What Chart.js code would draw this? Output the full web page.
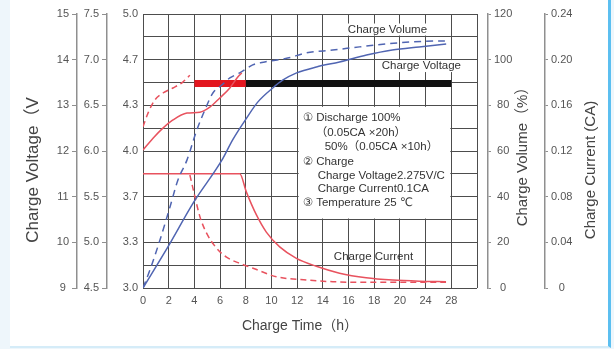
<!DOCTYPE html>
<html>
<head>
<meta charset="utf-8">
<script src="https://cdn.jsdelivr.net/npm/chart.js@4.4.1/dist/chart.umd.min.js"></script>
<style>
html, body { margin: 0; padding: 0; background: #eef6fb; }
#frame { position: absolute; left: 10px; top: 0; width: 598px; height: 346px; background: #fff; border-right: 3px solid #5cbff0; border-bottom: 2px solid #d5ecf8; }
#chart { position: absolute; left: 0; top: 0; }
</style>
</head>
<body>
<div id="frame"></div>
<canvas id="chart" width="614" height="349"></canvas>
<script>
//Axis ticks
var xTickLabels = ['0', '2', '4', '6', '8', '10', '12', '14', '16', '18', '20', '24', '28'];
var xGrid = [0, 2, 4, 6, 8, 10, 12, 14, 16, 18, 20, 22, 24, 26];
var batteryTicks = [9, 10, 11, 12, 13, 14, 15];
var halfTicks = [4.5, 5.0, 5.5, 6.0, 6.5, 7.0, 7.5];
var cellLabels = ['3.0', '3.3', '3.7', '4.0', '4.3', '4.7', '5.0'];
var volumeTicks = [0, 20, 40, 60, 80, 100, 120];
var currentTicks = [0, 0.04, 0.08, 0.12, 0.16, 0.20, 0.24];

//Series (x = position on the time axis, y on each axis scale)
var volt100T = [0, 0.78, 1.55, 2.33, 3.42, 4.43, 5.2, 5.98, 6.76, 7.38, 7.69];
var volt100V = [12.02, 12.28, 12.5, 12.68, 12.83, 12.85, 12.96, 13.16, 13.38, 13.62, 13.71];
var volt50T = [0, 0.39, 0.93, 1.55, 2.33, 3.1, 3.65];
var volt50V = [12.53, 12.83, 13.12, 13.27, 13.38, 13.51, 13.66];
var holdRedT = [4, 8];
var holdBlackT = [8, 24];
var holdV = [13.48, 13.48];

var vol100T = [0, 1.94, 3.96, 6.14, 6.99, 8.05, 8.93, 10.1, 10.87, 11.96, 13.5, 15.3, 17.4, 19.4, 21.5, 23.6];
var vol100P = [0, 18, 37.7, 56, 65, 74.3, 81.4, 87.6, 91, 94.2, 96.8, 99, 102, 104.2, 105.6, 106.9];
var vol50T = [0, 0.54, 1.32, 2.1, 2.72, 3.42, 4.19, 4.82, 5.44, 6.14, 6.76, 7.53, 8.54, 9.48, 11.26, 12.74, 14.76, 16.85, 18.95, 20.97, 23.07, 23.5];
var vol50P = [0, 7.9, 21, 35.5, 47.3, 56, 69.2, 78, 85.4, 88.9, 92, 94.2, 97.7, 99, 100.7, 103, 104.2, 105.6, 106.9, 107.8, 108.2, 108.2];

var cur100T = [0, 7.53, 8.05, 8.83, 9.6, 10.64, 11.94, 13.49, 15.3, 17.37, 19.44, 21.51, 23.59];
var cur100A = [0.1, 0.1, 0.084, 0.064, 0.049, 0.036, 0.026, 0.019, 0.013, 0.009, 0.007, 0.006, 0.0055];
var cur50T = [3.65, 4.04, 4.43, 4.95, 5.72, 6.5, 7.53, 8.57, 10.38, 12.71, 14.78, 17.1, 23.59];
var cur50A = [0.099, 0.08, 0.0625, 0.048, 0.035, 0.027, 0.0216, 0.0173, 0.0099, 0.007, 0.0055, 0.005, 0.005];

var FONT = '"Liberation Sans", Arial, "DejaVu Sans", "Noto Sans CJK SC", sans-serif';
var RED = '#e8525e', BLUE = '#5065b2', GRID = '#4d4d4d', AXIS = '#8f8f8f', TXT = '#555';

Chart.defaults.font.family = FONT;
Chart.defaults.color = TXT;

function series(label, xs, ys, axis, color, dash, width) {
	return {
		label: label,
		data: xs.map(function (x, i) { return {x: x, y: ys[i]}; }),
		yAxisID: axis,
		borderColor: color,
		backgroundColor: color,
		borderWidth: width || 1.5,
		borderDash: dash || [],
		borderCapStyle: 'butt',
		pointRadius: 0,
		cubicInterpolationMode: 'monotone',
		fill: false
	};
}

function fixTicks(values) {
	return function (s) { s.ticks = values.map(function (v) { return {value: v}; }); };
}

function sideAxis(pos, min, max, values, width, tickLen, pad) {
	return {
		position: pos, min: min, max: max,
		afterBuildTicks: fixTicks(values),
		afterFit: function (s) { s.width = width; },
		ticks: {crossAlign: 'center', padding: pad, color: TXT, font: {size: 11}},
		grid: {display: true, drawOnChartArea: false, drawTicks: true, tickLength: tickLen, tickColor: AXIS, color: AXIS},
		border: {display: true, color: AXIS, width: 1.5}
	};
}

//Labels and legend box
var notes = [
	{text: 'Charge Volume', x: 19.03, y: 11.32, bg: true},
	{text: 'Charge Voltage', x: 21.67, y: 9.72, bg: true},
	{text: 'Charge Current', x: 17.94, y: 1.36, bg: false}
];
var boxLines = [
	['\u2460 Discharge 100%', 4, 11],
	['\uff080.05CA \u00d720h\uff09', 17, 26],
	['50%\uff080.05CA \u00d710h\uff09', 26, 40],
	['\u2461 Charge', 4, 55],
	['Charge Voltage2.275V/C', 19, 69],
	['Charge Current0.1CA', 19, 82],
	['\u2462 Temperature 25 \u2103', 4, 96]
];

function vtext(ctx, text, x, y, size) {
	ctx.save();
	ctx.translate(x, y);
	ctx.rotate(-Math.PI / 2);
	ctx.font = size + 'px ' + FONT;
	ctx.fillStyle = '#444';
	ctx.textAlign = 'center';
	ctx.textBaseline = 'middle';
	ctx.fillText(text, 0, 0);
	ctx.restore();
}

var decorations = {
	id: 'decorations',
	beforeDatasetsDraw: function (chart) {
		var ctx = chart.ctx, x = chart.scales.x, g = chart.scales.yGrid;
		ctx.save();
		ctx.fillStyle = '#fff';
		var bl = x.getPixelForValue(12) + 1.5, br = x.getPixelForValue(24) - 1;
		var bt = g.getPixelForValue(8) + 1.5, bb = g.getPixelForValue(3) - 1;
		ctx.fillRect(bl, bt, br - bl, bb - bt);
		ctx.font = '11.5px ' + FONT;
		ctx.textBaseline = 'middle';
		notes.forEach(function (n) {
			if (!n.bg) return;
			var w = ctx.measureText(n.text).width;
			ctx.fillRect(x.getPixelForValue(n.x) - w / 2 - 1, g.getPixelForValue(n.y) - 6, w + 2, 12);
		});
		ctx.fillStyle = '#333';
		ctx.textAlign = 'left';
		boxLines.forEach(function (l) { ctx.fillText(l[0], bl + l[1], bt + l[2]); });
		ctx.textAlign = 'center';
		notes.forEach(function (n) { ctx.fillText(n.text, x.getPixelForValue(n.x), g.getPixelForValue(n.y)); });
		ctx.restore();
	},
	afterDraw: function (chart) {
		var ctx = chart.ctx, a = chart.chartArea, s = chart.scales;
		var mid = (a.top + a.bottom) / 2;
		vtext(ctx, 'Charge Voltage\uff08V', s.yA.left + 17, mid + 19, 17);
		vtext(ctx, 'Charge Volume\uff08%\uff09', s.yVol.left + 35, mid + 2, 15);
		vtext(ctx, 'Charge Current (CA)', s.yCur.left + 46, mid + 19, 15);
		ctx.save();
		ctx.font = '14px ' + FONT;
		ctx.fillStyle = '#444';
		ctx.textAlign = 'center';
		ctx.textBaseline = 'middle';
		ctx.fillText('Charge Time\uff08h\uff09', (a.left + a.right) / 2 - 10, a.bottom + 38);
		ctx.restore();
	}
};

var chart = new Chart(document.getElementById('chart'), {
	type: 'line',
	data: {
		datasets: [
			series('Voltage 100%', volt100T, volt100V, 'yA', RED),
			series('Voltage 50%', volt50T, volt50V, 'yA', RED, [6, 4]),
			series('Volume 100%', vol100T, vol100P, 'yVol', BLUE),
			series('Volume 50%', vol50T, vol50P, 'yVol', BLUE, [7, 5]),
			series('Current 100%', cur100T, cur100A, 'yCur', RED),
			series('Current 50%', cur50T, cur50A, 'yCur', RED, [6, 4]),
			series('Hold red', holdRedT, holdV, 'yA', '#e3161f', [], 7),
			series('Hold black', holdBlackT, holdV, 'yA', '#111111', [], 7)
		]
	},
	options: {
		responsive: false,
		animation: false,
		layout: {padding: {left: 16, right: 9, top: 14, bottom: 11}},
		scales: {
			x: {
				type: 'linear', min: 0, max: 26,
				afterBuildTicks: fixTicks(xGrid),
				afterFit: function (s) { s.height = 50; },
				ticks: {
					callback: function (v, i) { return xTickLabels[i] || ''; },
					padding: 6, color: TXT, font: {size: 11}, maxRotation: 0, autoSkip: false
				},
				grid: {color: GRID, lineWidth: 1, drawTicks: false},
				border: {display: false}
			},
			yC: {
				position: 'left', min: 0, max: 6,
				afterBuildTicks: fixTicks([0, 1, 2, 3, 4, 5, 6]),
				afterFit: function (s) { s.width = 36; },
				ticks: {callback: function (v, i) { return cellLabels[i]; }, crossAlign: 'center', padding: 5, color: TXT, font: {size: 11}},
				grid: {display: false, drawTicks: false},
				border: {display: false}
			},
			yB: Object.assign(sideAxis('left', 4.5, 7.5, halfTicks, 30, 5, 3), {}),
			yA: sideAxis('left', 9, 15, batteryTicks, 61, 5, 3),
			yGrid: {
				position: 'right', min: 0, max: 12,
				afterBuildTicks: fixTicks([0, 1, 2, 3, 4, 5, 6, 7, 8, 9, 10, 11, 12]),
				afterFit: function (s) { s.width = 11; },
				ticks: {display: false},
				grid: {color: GRID, lineWidth: 1, drawTicks: false},
				border: {display: false}
			},
			yVol: sideAxis('right', 0, 120, volumeTicks, 57, 3, 3),
			yCur: sideAxis('right', 0, 0.24, currentTicks, 60, 3, 3)
		},
		plugins: {
			legend: {display: false},
			tooltip: {enabled: false}
		}
	},
	plugins: [decorations]
});
chart.options.scales.yB.ticks.callback = function (v) { return v.toFixed(1); };
chart.options.scales.yCur.ticks.callback = function (v) { return v === 0 ? '0' : v.toFixed(2); };
chart.update();
</script>
</body>
</html>
